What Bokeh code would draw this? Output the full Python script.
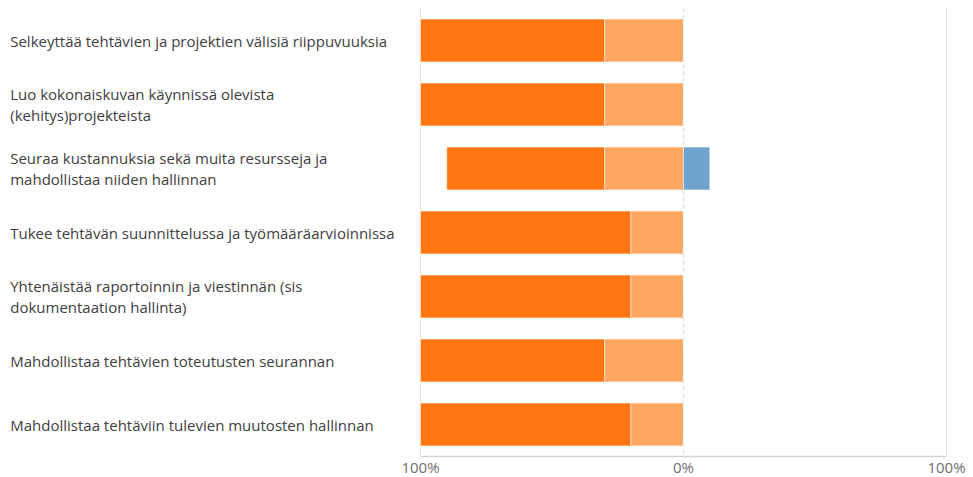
from bokeh.plotting import figure
from bokeh.models import ColumnDataSource, FactorRange, Range1d, FixedTicker, Span
from bokeh.core.properties import value
from bokeh.embed import file_html
from bokeh.resources import INLINE

categories = [
    "Selkeyttää tehtävien ja projektien välisiä riippuvuuksia",
    "Luo kokonaiskuvan käynnissä olevista\n(kehitys)projekteista",
    "Seuraa kustannuksia sekä muita resursseja ja\nmahdollistaa niiden hallinnan",
    "Tukee tehtävän suunnittelussa ja työmääräarvioinnissa",
    "Yhtenäistää raportoinnin ja viestinnän (sis\ndokumentaation hallinta)",
    "Mahdollistaa tehtävien toteutusten seurannan",
    "Mahdollistaa tehtäviin tulevien muutosten hallinnan",
]
strongly_agree = [70, 70, 60, 80, 80, 70, 80]
somewhat_agree = [30, 30, 30, 20, 20, 30, 20]
somewhat_disagree = [0, 0, 10, 0, 0, 0, 0]
tick_values = [-100, 0, 100]
tick_labels = ["100%", "0%", "100%"]

src = ColumnDataSource(dict(
    cat=categories,
    sa_left=[-(a + b) for a, b in zip(strongly_agree, somewhat_agree)],
    sa_right=[-b for b in somewhat_agree],
    wa_left=[-b for b in somewhat_agree],
    wa_right=[0] * len(categories),
    sd_left=[0] * len(categories),
    sd_right=somewhat_disagree,
    label_x=[-256] * len(categories),
))

p = figure(
    y_range=FactorRange(factors=list(reversed(categories))),
    x_range=Range1d(-256.65, 103.04),
    frame_width=946, frame_height=448,
    min_border_left=8, min_border_right=16, min_border_top=8, min_border_bottom=21,
    output_backend="svg", toolbar_location=None,
)
p.outline_line_color = None
p.background_fill_color = "white"

p.hbar(y="cat", left="sa_left", right="sa_right", height=0.67, source=src,
       fill_color="#FF7613", line_color="white", line_alpha=0.5, line_width=1)
p.hbar(y="cat", left="wa_left", right="wa_right", height=0.67, source=src,
       fill_color="#FFA864", line_color="white", line_alpha=0.5, line_width=1)
p.hbar(y="cat", left="sd_left", right="sd_right", height=0.67, source=src,
       fill_color="#6FA3CB", line_color="white", line_alpha=0.5, line_width=1)

p.text(x="label_x", y="cat", text="cat", source=src,
       text_font=value("Open Sans"), text_font_size="15px", text_color="#404040",
       text_align="left", text_baseline="middle", text_line_height=1.08)

p.yaxis.visible = False
p.ygrid.visible = False
p.xgrid.ticker = FixedTicker(ticks=[-100, 100])
p.xgrid.grid_line_color = "#e2e2e2"
p.xgrid.grid_line_width = 1
zero = Span(location=0, dimension="height", line_color="#e2e2e2", line_dash="4 3", line_width=1.5, level="underlay")
p.add_layout(zero)

ax = p.xaxis[0]
ax.ticker = FixedTicker(ticks=tick_values)
ax.major_label_overrides = {v: l for v, l in zip(tick_values, tick_labels)}
ax.bounds = (-100, 100)
ax.axis_line_color = "#d4d4d4"
ax.axis_line_width = 1.5
ax.major_tick_line_color = None
ax.minor_tick_line_color = None
ax.major_tick_out = 0
ax.major_label_standoff = 0
ax.major_label_text_font = "Open Sans"
ax.major_label_text_font_size = "15px"
ax.major_label_text_color = "#707070"

open("out.html", "w").write(file_html(p, INLINE))
